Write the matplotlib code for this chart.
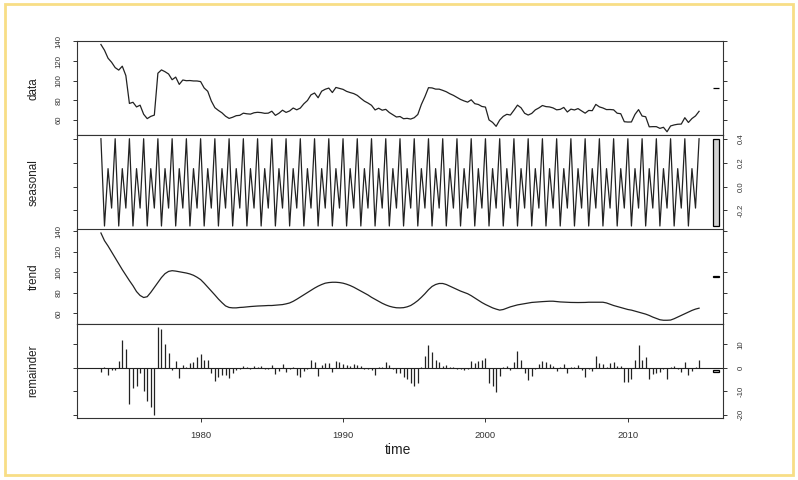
import numpy as np
import matplotlib
matplotlib.use("Agg")
import matplotlib.pyplot as plt
import matplotlib.transforms as mtransforms
from matplotlib.patches import Rectangle

plt.rcParams['font.family'] = ['Liberation Sans', 'DejaVu Sans']
plt.rcParams['axes.unicode_minus'] = False

# quarterly series, 1973 Q1 .. 2015 Q1
start_year = 1973
freq = 4
seasonal_pattern = [0.40, -0.33, 0.15, -0.18]

trend = [
    138.5, 131, 125.8, 120, 114, 108.5, 102.7, 97.3, 92, 87,
    81.3, 77.5, 75.5, 76.3, 80.5, 85.3, 90, 95, 98.8, 101,
    101.7, 101.3, 100.7, 100, 99.4, 98.5, 97.2, 95.3, 93, 89.5,
    85.7, 81.8, 78, 74, 70.5, 67.3, 65.8, 65.4, 65.4, 65.8,
    66, 66.4, 66.7, 67, 67.2, 67.3, 67.5, 67.7, 67.7, 68,
    68.3, 68.6, 69.3, 70.2, 71.8, 73.8, 76, 78.3, 80.5, 82.7,
    84.7, 86.6, 88.2, 89.5, 90.1, 90.4, 90.4, 90.1, 89.5, 88.5,
    87.2, 85.6, 83.7, 81.8, 79.9, 78, 75.7, 73.8, 71.9, 69.9,
    68.3, 67, 66.1, 65.5, 65.4, 65.6, 66.4, 67.7, 69.9, 72.5,
    75.7, 79.2, 83.1, 86.3, 88.2, 89.2, 89.2, 88.2, 86.6, 85,
    83.4, 81.8, 80.5, 79.2, 77.3, 75.1, 72.8, 70.6, 68.7, 67,
    65.4, 64.2, 63.2, 63.8, 65.1, 66.4, 67.3, 68.3, 68.9, 69.6,
    70.2, 70.7, 71, 71.2, 71.5, 71.7, 71.9, 71.9, 71.5, 71.2,
    71, 70.9, 70.7, 70.6, 70.6, 70.6, 70.7, 70.9, 70.9, 71,
    71, 70.9, 70.2, 68.9, 67.7, 66.7, 65.7, 64.7, 63.8, 63.2,
    62.2, 61.2, 60.3, 59.3, 58, 56.4, 55.1, 53.8, 53.3, 53.3,
    53.5, 54.8, 56.4, 58, 59.6, 61.2, 62.9, 64.2, 65.1,
]

remainder = [
    -2.0, 0.4, -3.0, -1.0, -1.0, 2.7, 12.0, 8.2, -15.4, -8.5,
    -8.0, -2.1, -9.9, -14.4, -16.8, -20.0, 17.3, 16.4, 10.3, 6.1,
    -1.0, 2.8, -4.5, 1.0, 0.3, 2.1, 2.5, 4.7, 5.8, 3.5,
    3.5, -2.1, -5.7, -3.8, -3.2, -3.1, -4.4, -2.1, -1.0, -0.7,
    0.7, 0.4, -0.7, 0.7, 0.4, 0.7, -0.7, -0.4, 1.0, -2.8,
    -1.4, 1.7, -1.8, -0.5, 0.4, -3.1, -4.1, -1.3, -0.7, 3.2,
    2.5, -3.5, 1.1, 2.1, 2.1, -2.0, 2.7, 2.3, 1.4, 1.1,
    0.7, 1.6, 1.1, 0.7, -0.7, -0.4, -1.0, -3.1, 0.1, 0.4,
    2.3, 1.1, -0.7, -2.1, -2.1, -3.8, -4.7, -6.4, -7.8, -6.4,
    0.1, 4.9, 9.5, 6.8, 3.2, 2.5, 0.7, 1.0, 0.1, 0.4,
    -0.7, -0.4, -1.1, -0.7, 3.0, 2.0, 3.0, 3.5, 4.2, -6.4,
    -7.8, -10.3, -3.5, 0.4, 0.7, -1.0, 2.4, 7.3, 3.5, -2.4,
    -5.4, -3.5, -0.7, 1.4, 3.0, 2.4, 1.4, 0.7, -1.4, 0.1,
    1.8, -2.4, 0.1, 0.1, 1.0, -1.0, -4.0, -0.7, -1.4, 5.2,
    2.1, 1.8, 0.4, 2.1, 2.4, 0.7, 0.7, -6.1, -6.1, -4.7,
    3.5, 9.7, 3.5, 4.5, -4.9, -2.8, -2.1, -1.8, -0.7, -4.9,
    0.2, 0.7, -0.7, -1.8, 2.5, -3.2, -1.4, 0.3, 3.5,
]

n = len(trend)
time = start_year + np.arange(n) / freq
trend = np.array(trend)
remainder = np.array(remainder)
seasonal = np.tile(seasonal_pattern, n // freq + 1)[:n]
# the observed series is the sum of the stl components
data = trend + seasonal + remainder

panel_names = ["data", "seasonal", "trend", "remainder"]
panel_series = [data, seasonal, trend, remainder]
panel_ticks = [
    [60, 80, 100, 120, 140],
    [-0.2, 0.0, 0.2, 0.4],
    [60, 80, 100, 120, 140],
    [-20, -10, 0, 10],
]
panel_ticklabels = [
    ["60", "80", "100", "120", "140"],
    ["-0.2", "0.0", "0.2", "0.4"],
    ["60", "80", "100", "120", "140"],
    ["-20", "-10", "0", "10"],
]
year_ticks = [1980, 1990, 2000, 2010]

W, H = 798, 480
fig = plt.figure(figsize=(W / 100, H / 100), dpi=100)
fig.patch.set_facecolor("white")

line_col = "#222222"
left_px, right_px, top_px, bot_px = 77, 723, 41, 418
ph = (bot_px - top_px) / 4

xr = time[-1] - time[0]
xlim = (time[0] - 0.04 * xr, time[-1] + 0.04 * xr)
bar_h = seasonal.max() - seasonal.min()

for i, (name, y) in enumerate(zip(panel_names, panel_series)):
    ptop = top_px + i * ph
    ax = fig.add_axes([left_px / W, 1 - (ptop + ph) / H,
                       (right_px - left_px) / W, ph / H])
    if name == "remainder":
        ax.vlines(time, 0, y, color=line_col, lw=0.9)
        ax.axhline(0, color=line_col, lw=0.8)
    else:
        ax.plot(time, y, color=line_col, lw=0.9)

    yr = y.max() - y.min()
    ylim = (y.min() - 0.04 * yr, y.max() + 0.04 * yr)
    ax.set_xlim(*xlim)
    ax.set_ylim(*ylim)

    # range bar on the right side
    trans = mtransforms.blended_transform_factory(ax.transAxes, ax.transData)
    mid = np.mean(ylim)
    ax.add_patch(Rectangle((0.9845, mid - bar_h / 2), 0.0093, bar_h,
                           transform=trans, facecolor="#d3d3d3",
                           edgecolor="black", lw=0.9, clip_on=False))

    for sp in ax.spines.values():
        sp.set_color("#333333")
        sp.set_linewidth(0.8)

    on_left = i % 2 == 0
    ax.set_yticks(panel_ticks[i], labels=panel_ticklabels[i], rotation=90,
                  va="center", fontsize=5.6, color="#333333")
    ax.tick_params(axis="y", direction="out", length=3, width=0.7,
                   left=True, right=True, labelleft=on_left,
                   labelright=not on_left, pad=7.5, colors="#333333")

    ax.set_xticks(year_ticks)
    last = i == 3
    ax.tick_params(axis="x", direction="out", length=3, width=0.7,
                   labelbottom=last, labelsize=6.8, pad=6, colors="#333333")

    fig.text(33.5 / W, 1 - (ptop + ph / 2) / H, name, rotation=90,
             ha="center", va="center", fontsize=8.4, color="#222222")

fig.text(398 / W, 1 - 450 / H, "time", ha="center", va="center",
         fontsize=10, color="#222222")

fig.patches.append(Rectangle((5 / W, 1 - 475 / H), 788 / W, 471 / H,
                             transform=fig.transFigure, fill=False,
                             edgecolor="#f8de86", lw=2))

fig.savefig("out.png", dpi=100)
